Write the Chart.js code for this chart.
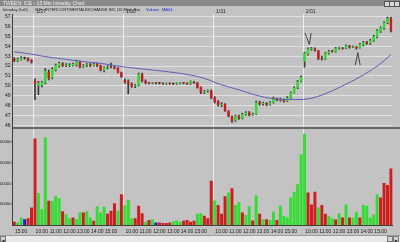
<!DOCTYPE html>
<html>
<head>
<meta charset="utf-8">
<script src="https://cdn.jsdelivr.net/npm/chart.js@4.4.0/dist/chart.umd.min.js"></script>
<style>
  body { margin: 0; width: 400px; height: 242px; overflow: hidden; background: #c3c3c3; position: relative; font-family: "Liberation Sans", Arial, sans-serif; }
  #title { position: absolute; left: 0; top: 0; width: 400px; height: 6px; background: #8a8a8a; }
  #title span { position: absolute; left: 3px; top: 0; font-size: 5px; line-height: 6px; color: #f0f0f0; }
  .btn { position: absolute; top: 1px; width: 4px; height: 4px; background: #d8d8d8; border: 0.5px solid #555; }
  .info { position: absolute; top: 6.5px; font-size: 4px; line-height: 5px; color: #202020; white-space: nowrap; }
  .blue { color: #2424c8; }
  #wrap { position: absolute; left: 0; top: 0; width: 400px; height: 235px; }
  #scroll { position: absolute; left: 0; top: 235px; width: 400px; height: 7px; background: #e8e8e8; border-top: 1px solid #9c9c9c; box-sizing: border-box; }
  .arrow { position: absolute; top: 0; width: 6px; height: 6px; background: #d4d4d4; border: 0.5px solid #777; font-size: 5px; line-height: 6px; text-align: center; color: #222; box-sizing: border-box; }
</style>
</head>
<body>
<div id="wrap"><canvas id="chart" width="400" height="235"></canvas></div>
<div id="title"><span>TWEEN: ICE - 15 Min Intraday Chart</span>
  <div class="btn" style="left:384px"></div><div class="btn" style="left:389px"></div><div class="btn" style="left:394px"></div>
</div>
<div class="info" style="left:3px">Intraday (Left)</div>
<div class="info" style="left:35px">ICE - INTERCONTINENTALEXCHANGE INC (15 Min)</div>
<div class="info" style="left:134px">Bar</div>
<div class="info blue" style="left:146px">Volume</div>
<div class="info blue" style="left:162px">MA04</div>
<div id="scroll"><div class="arrow" style="left:0">&#9666;</div><div class="arrow" style="left:387px"></div><div class="arrow" style="left:393px">&#9656;</div></div>
<script>
const firstDayTimes = ["14:30", "14:45", "15:00", "15:15", "15:30", "15:45"];
const sessionTimes = ["9:30", "9:45", "10:00", "10:15", "10:30", "10:45", "11:00", "11:15", "11:30", "11:45",
  "12:00", "12:15", "12:30", "12:45", "13:00", "13:15", "13:30", "13:45", "14:00", "14:15",
  "14:30", "14:45", "15:00", "15:15", "15:30", "15:45"];
const dayLabels = ["1/27", "1/30", "1/31", "2/01"];

// 15 min bars, 1/26 afternoon to 2/01 close
const opens = [52.75, 52.50, 52.65, 52.80, 52.80, 52.60,
  50.50, 50.00, 50.05, 50.30, 51.40, 50.80, 51.60, 52.00, 52.25, 52.05, 52.00, 52.05, 52.10, 52.45, 51.90, 52.05, 52.15, 52.05, 52.20, 52.05, 51.55, 51.85, 51.95, 51.90, 51.80, 51.35,
  50.60, 50.40, 50.20, 49.95, 50.05, 51.20, 50.50, 50.30, 50.25, 50.30, 50.25, 50.25, 50.20, 50.25, 50.20, 50.20, 50.25, 50.30, 50.25, 50.20, 50.40, 50.30, 49.85, 49.30, 49.45, 49.50,
  48.80, 48.40, 48.05, 48.15, 47.45, 46.90, 46.50, 46.95, 46.70, 47.10, 47.30, 47.05, 47.15, 48.30, 48.15, 48.25, 48.10, 48.30, 48.70, 48.55, 48.60, 48.45, 48.80, 49.30, 49.80, 50.45,
  52.45, 53.20, 53.70, 53.75, 53.55, 52.80, 52.70, 53.30, 53.50, 53.45, 53.80, 53.85, 53.80, 54.05, 53.90, 53.95, 53.85, 54.15, 54.40, 54.30, 54.60, 54.95, 55.50, 55.80, 56.35, 56.85];
const highs = [52.85, 52.80, 52.95, 52.90, 52.85, 52.65,
  50.70, 50.45, 50.45, 51.75, 51.60, 51.85, 52.20, 52.40, 52.35, 52.25, 52.25, 52.30, 52.60, 52.50, 52.15, 52.25, 52.25, 52.30, 52.30, 52.10, 51.95, 52.05, 52.30, 52.00, 51.85, 51.40,
  50.70, 50.60, 50.30, 50.15, 51.30, 51.30, 50.60, 50.35, 50.35, 50.35, 50.30, 50.30, 50.30, 50.30, 50.25, 50.30, 50.35, 50.35, 50.30, 50.50, 50.45, 50.35, 49.90, 49.55, 49.60, 49.60,
  48.90, 48.50, 48.30, 48.20, 47.50, 46.95, 47.05, 47.05, 47.25, 47.40, 47.40, 47.25, 48.45, 48.45, 48.35, 48.30, 48.40, 48.85, 48.75, 48.75, 48.65, 48.90, 49.40, 49.90, 50.55, 51.00,
  53.40, 53.85, 53.90, 53.85, 53.60, 53.00, 53.40, 53.60, 53.60, 53.90, 53.95, 53.90, 54.15, 54.10, 54.05, 54.00, 54.30, 54.50, 54.50, 54.70, 55.10, 55.70, 56.00, 56.50, 56.95, 56.95];
const lows = [52.45, 52.45, 52.60, 52.70, 52.50, 52.30,
  48.60, 49.10, 49.90, 50.20, 50.60, 50.70, 51.50, 51.90, 51.95, 51.95, 51.95, 52.00, 52.00, 51.80, 51.85, 51.95, 51.95, 52.00, 51.95, 51.50, 51.40, 51.70, 51.80, 51.70, 51.30, 50.85,
  50.25, 49.20, 49.85, 49.80, 50.00, 50.40, 50.20, 50.20, 50.20, 50.20, 50.20, 50.15, 50.15, 50.15, 50.15, 50.15, 50.20, 50.20, 50.15, 50.15, 50.25, 49.75, 49.20, 49.20, 49.35, 48.70,
  48.25, 47.95, 47.90, 47.40, 46.85, 46.30, 46.40, 46.60, 46.65, 47.00, 46.95, 47.00, 47.10, 48.05, 48.05, 48.00, 48.05, 48.25, 48.50, 48.45, 48.35, 48.40, 48.75, 49.25, 49.70, 50.40,
  51.90, 53.10, 53.60, 53.50, 52.65, 52.60, 52.65, 53.20, 53.40, 53.40, 53.70, 53.70, 53.75, 53.80, 53.85, 53.70, 53.80, 54.05, 54.20, 54.20, 54.50, 54.85, 55.40, 55.70, 56.30, 55.45];
const closes = [52.50, 52.70, 52.85, 52.80, 52.55, 52.40,
  50.20, 50.30, 50.35, 51.50, 50.75, 51.70, 52.10, 52.30, 52.05, 52.15, 52.10, 52.20, 52.50, 51.85, 52.05, 52.15, 52.05, 52.20, 52.05, 51.55, 51.85, 51.95, 51.90, 51.80, 51.35, 50.90,
  50.35, 50.20, 49.95, 50.05, 51.20, 50.45, 50.30, 50.25, 50.30, 50.25, 50.25, 50.20, 50.25, 50.20, 50.20, 50.25, 50.30, 50.25, 50.20, 50.45, 50.30, 49.80, 49.30, 49.45, 49.50, 48.75,
  48.35, 48.05, 48.15, 47.45, 46.90, 46.45, 46.95, 46.70, 47.15, 47.30, 47.05, 47.15, 48.30, 48.15, 48.25, 48.10, 48.30, 48.75, 48.55, 48.60, 48.45, 48.80, 49.30, 49.80, 50.45, 50.90,
  53.30, 53.75, 53.75, 53.55, 52.75, 52.70, 53.30, 53.50, 53.45, 53.80, 53.85, 53.75, 54.05, 53.90, 53.95, 53.80, 54.20, 54.40, 54.25, 54.60, 55.00, 55.60, 55.90, 56.40, 56.85, 55.55];

const volumes = [8000, 6000, 18000, 14000, 16000, 42000,
  208000, 77000, 38000, 211000, 58000, 58000, 70000, 64000, 33000, 26000, 16000, 18000, 14000, 30000, 30000, 33000, 18000, 10000, 45000, 30000, 44000, 27000, 34000, 52000, 34000, 74000,
  47000, 60000, 16000, 16000, 46000, 28000, 8000, 12000, 14000, 6000, 6000, 5000, 5000, 6000, 9000, 11000, 8000, 10000, 12000, 8000, 10000, 27000, 28000, 22000, 16000, 106000,
  59000, 48000, 27000, 69000, 78000, 88000, 48000, 55000, 30000, 24000, 45000, 11000, 71000, 27000, 14000, 14000, 12000, 32000, 12000, 46000, 22000, 18000, 66000, 80000, 98000, 170000,
  219000, 78000, 49000, 80000, 42000, 48000, 27000, 22000, 16000, 13000, 28000, 18000, 49000, 18000, 18000, 32000, 18000, 48000, 46000, 18000, 25000, 74000, 66000, 101000, 96000, 136000];
// volume bar colour per day: u = up tick, d = down tick, n = unchanged
const volumeTicks = ["duundd", "duuuduuudu" + "uduuduuduuuddd", "uduuudddudunddd" + "duuudddduud", "ddudddud" + "uuduudududuuduuuuu", "uuuddduddu" + "udududuuduuuuud"];

const maIndex = [0, 5, 10, 15, 20, 25, 30, 35, 40, 45, 50, 55, 60, 65, 70, 75, 80, 85, 90, 95, 100, 105, 109];
const maValue = [53.45, 53.2, 52.9, 52.68, 52.45, 52.27, 52.0, 51.78, 51.6, 51.4, 51.15, 50.75, 50.1, 49.6, 49.05, 48.7, 48.62, 48.68, 49.2, 50.0, 50.9, 52.0, 53.15];

// hand drawn marks on the chart: [bar, price, bar, price]
const drawnLines = [[84.1, 55.35, 85.4, 54.2], [85.9, 55.35, 85.4, 54.2], [98.7, 52.1, 99.4, 53.35], [100.1, 52.1, 99.4, 53.35]];

const priceTicks = [46, 47, 48, 49, 50, 51, 52, 53, 54, 55, 56, 57];
const volumeAxisTicks = [50000, 100000, 150000, 200000];

const UP = "#34dc34";
const DOWN = "#cc1e1e";
const FLAT = "#2a2a2a";
const SAME = "#1e1ed2";
const FONT = "Liberation Sans";

const times = firstDayTimes.concat(...dayLabels.map(() => sessionTimes));
const dayStarts = dayLabels.map((d, i) => firstDayTimes.length + i * sessionTimes.length);
const volumeDir = volumeTicks.join("");

const candleColors = opens.map((o, i) => closes[i] > o ? UP : (closes[i] < o ? DOWN : FLAT));
const volColors = volumes.map((v, i) => {
  const c = volumeDir[i];
  return c === "u" ? UP : (c === "n" ? SAME : DOWN);
});
const maLine = times.map(() => null);
maIndex.forEach((k, i) => { maLine[k] = maValue[i]; });

const extras = {
  id: "extras",
  beforeDatasetsDraw(chart) {
    // day separators through both panels
    const { ctx, chartArea, scales } = chart;
    const x = scales.x;
    const half = (x.getPixelForValue(1) - x.getPixelForValue(0)) / 2;
    ctx.save();
    ctx.strokeStyle = "#eeeeee";
    ctx.lineWidth = 1;
    dayStarts.forEach(k => {
      const px = Math.round(x.getPixelForValue(k) - half) + 0.5;
      ctx.beginPath();
      ctx.moveTo(px, chartArea.top);
      ctx.lineTo(px, chartArea.bottom);
      ctx.stroke();
    });
    ctx.restore();
  },
  afterDatasetsDraw(chart) {
    const { ctx, chartArea, scales } = chart;
    const x = scales.x, y = scales.y;
    const half = (x.getPixelForValue(1) - x.getPixelForValue(0)) / 2;
    ctx.save();
    // panel divider
    ctx.strokeStyle = "#4a4a4a";
    ctx.lineWidth = 1.5;
    ctx.beginPath();
    ctx.moveTo(chartArea.left, y.bottom);
    ctx.lineTo(400, y.bottom);
    ctx.stroke();
    // trader's marks
    ctx.strokeStyle = "#222";
    ctx.lineWidth = 0.8;
    drawnLines.forEach(l => {
      ctx.beginPath();
      ctx.moveTo(x.getPixelForValue(l[0]), y.getPixelForValue(l[1]));
      ctx.lineTo(x.getPixelForValue(l[2]), y.getPixelForValue(l[3]));
      ctx.stroke();
    });
    // date labels above the price panel
    ctx.fillStyle = "#202020";
    ctx.font = "5px '" + FONT + "'";
    ctx.textBaseline = "middle";
    dayStarts.forEach((k, i) => {
      ctx.fillText(dayLabels[i], x.getPixelForValue(k) - half + 3, 12);
    });
    ctx.restore();
  }
};

new Chart(document.getElementById("chart"), {
  type: "bar",
  data: {
    labels: times,
    datasets: [
      {
        type: "line", label: "MA", data: maLine, yAxisID: "y", spanGaps: true,
        borderColor: "#5c5cb8", borderWidth: 1, pointRadius: 0, tension: 0.4, order: 0
      },
      {
        label: "Body", data: opens.map((o, i) => [o, closes[i]]), yAxisID: "y",
        backgroundColor: candleColors, borderWidth: 0, minBarLength: 1,
        grouped: false, barPercentage: 0.72, categoryPercentage: 1, order: 1
      },
      {
        label: "Wick", data: lows.map((l, i) => [l, highs[i]]), yAxisID: "y",
        backgroundColor: "#3a3a3a", borderWidth: 0, barThickness: 1,
        grouped: false, order: 2
      },
      {
        label: "Volume", data: volumes, yAxisID: "yv",
        backgroundColor: volColors, borderWidth: 0,
        grouped: false, barPercentage: 0.86, categoryPercentage: 1, order: 3
      }
    ]
  },
  options: {
    responsive: false,
    animation: false,
    devicePixelRatio: 1,
    layout: { padding: { top: 14, right: 7.3, left: 0, bottom: 0 } },
    plugins: { legend: { display: false }, tooltip: { enabled: false } },
    scales: {
      x: {
        offset: true,
        afterFit: s => { s.height = 10; },
        grid: { display: false, drawTicks: false },
        border: { color: "#404040", width: 1 },
        ticks: {
          autoSkip: false, maxRotation: 0, padding: 4, color: "#1a1a1a",
          font: { family: FONT, size: 5 },
          callback: (v, i) => (times[i].endsWith(":00") ? times[i] : "")
        }
      },
      yv: {
        position: "left", stack: "panels", stackWeight: 97,
        min: 0, max: 233000,
        afterFit: s => { s.width = 12.5; },
        afterBuildTicks: s => { s.ticks = volumeAxisTicks.map(v => ({ value: v })); },
        grid: { display: false, drawTicks: false },
        border: { color: "#404040", width: 1 },
        ticks: { autoSkip: false, padding: 1, color: "#1a1a1a", font: { family: FONT, size: 4.2 }, callback: v => String(v) }
      },
      y: {
        position: "left", stack: "panels", stackWeight: 114,
        min: 45.73, max: 57.27,
        afterFit: s => { s.width = 12.5; },
        afterBuildTicks: s => { s.ticks = priceTicks.map(v => ({ value: v })); },
        grid: { color: "#e0e0e0", lineWidth: 1, drawTicks: false },
        border: { color: "#404040", width: 1 },
        ticks: { autoSkip: false, padding: 2, color: "#1a1a1a", font: { family: FONT, size: 5 }, callback: v => String(v) }
      }
    }
  },
  plugins: [extras]
});
</script>
</body>
</html>
